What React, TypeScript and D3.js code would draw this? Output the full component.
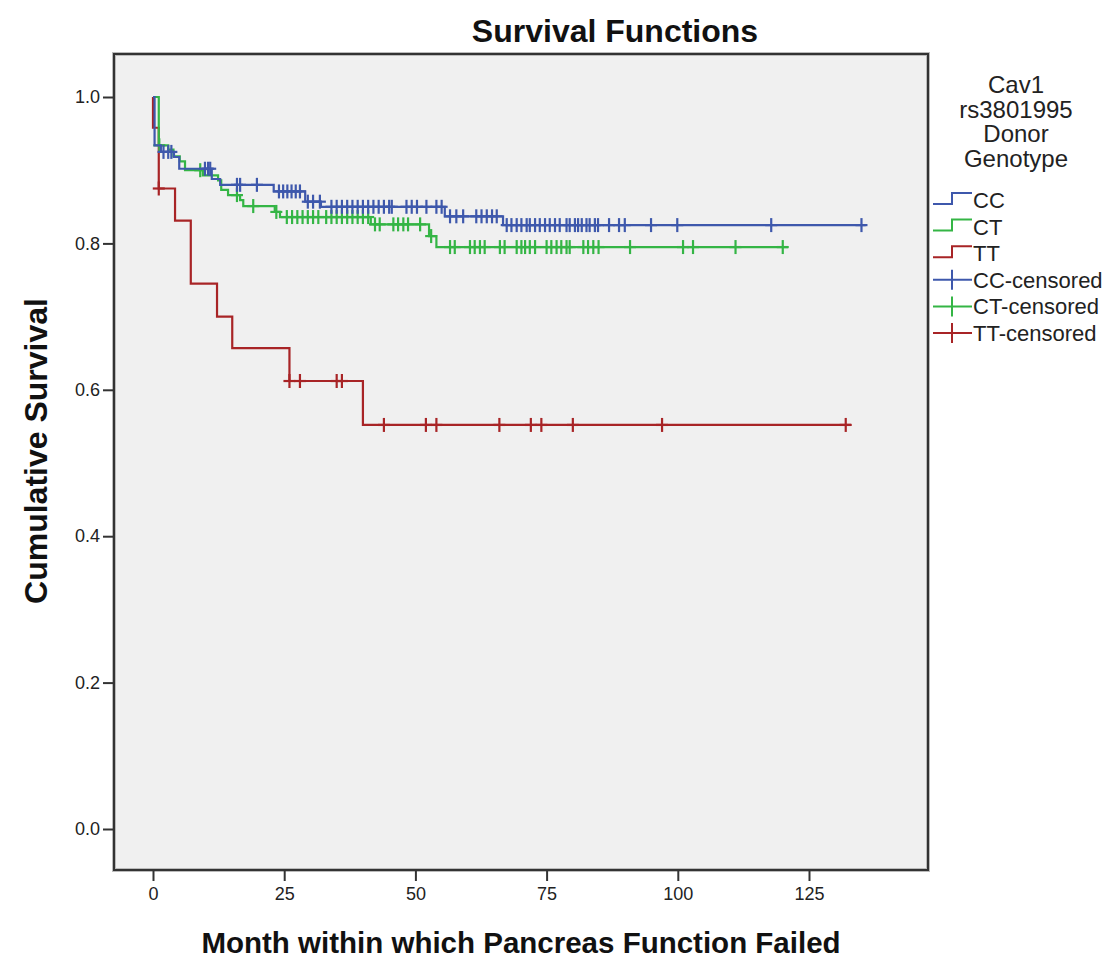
import React, { useEffect, useRef } from 'react';
import * as d3 from 'd3';

// step events: [month, survival after the drop]
const ccEvents: [number, number][] = [
  [0.3, 0.934], [1.5, 0.925], [4, 0.918], [5, 0.902], [11.2, 0.888], [12.8, 0.880],
  [23, 0.871], [29, 0.857], [32, 0.850], [55.6, 0.837], [66.7, 0.825],
];
const ccCensored = [
  2, 2.9, 3.5, 9.9, 10.5, 10.9, 16, 16.6, 19.8, 24, 24.8, 25.6, 26.4, 27.2, 28, 29.5, 30.5, 31.8,
  34, 35, 36, 37, 38, 39, 40, 41, 42, 43, 44, 45, 45.5, 48.3, 49.3, 50.3, 52.1, 54, 55,
  56.6, 57.8, 59.1, 61.6, 62.6, 63.6, 64.6, 65.5, 67.4, 68.3, 69.3, 70.2, 71.2, 71.8, 72.8,
  73.7, 74.7, 75.6, 76.6, 77.5, 78.8, 79.4, 80.4, 81, 81.7, 82.6, 83.2, 84.2, 84.8, 86.9,
  88.8, 89.9, 94.9, 99.9, 117.8, 135,
];
const ccEnd = 135.8;

const ctEvents: [number, number][] = [
  [1.1, 0.934], [2.9, 0.928], [3.9, 0.919], [5.1, 0.912], [6.1, 0.900], [9.5, 0.893],
  [12.4, 0.886], [13, 0.873], [14.3, 0.866], [16.6, 0.859], [17.2, 0.851], [23.2, 0.843],
  [24.2, 0.836], [41.5, 0.826], [52.6, 0.810], [54, 0.795],
];
const ctCensored = [
  1.2, 9, 16, 19.1, 23.5, 25.5, 26.5, 27.5, 28.5, 29.5, 30.5, 31.5, 33, 34, 35, 36, 37, 38, 39,
  40, 41, 42.3, 43.2, 45.8, 46.7, 47.7, 48.6, 50.9, 53, 56.6, 57.5, 60.4, 61.3, 62.3, 63.2,
  66.1, 67, 69.3, 70.2, 70.9, 71.8, 72.8, 75, 75.9, 76.9, 77.8, 78.8, 79.4, 82, 82.9, 83.9,
  84.9, 90.9, 101, 102.9, 111, 120,
];
const ctEnd = 121;

const ttEvents: [number, number][] = [
  [0, 0.958], [1.1, 0.875], [4.2, 0.831], [7.2, 0.745], [12.2, 0.700], [15.1, 0.657],
  [26, 0.612], [40, 0.552],
];
const ttCensored = [1.1, 26, 28, 35, 36, 44, 52, 54, 66, 72, 74, 80, 97, 132];
const ttEnd = 133;

const xTicks = [0, 25, 50, 75, 100, 125];
const yTicks = [0, 0.2, 0.4, 0.6, 0.8, 1.0];
const legendTitle = ['Cav1', 'rs3801995', 'Donor', 'Genotype'];

const series = [
  { key: 'CC', events: ccEvents, censored: ccCensored, end: ccEnd, color: '#3e58ac' },
  { key: 'CT', events: ctEvents, censored: ctCensored, end: ctEnd, color: '#34b545' },
  { key: 'TT', events: ttEvents, censored: ttCensored, end: ttEnd, color: '#a82426' },
];

const FONT = 'Arial, "Liberation Sans", sans-serif';

export default function App() {
  const svgRef = useRef<SVGSVGElement>(null);

  useEffect(() => {
    if (!svgRef.current) return;
    const svg = d3.select(svgRef.current);
    svg.selectAll('*').remove();

    const box = { left: 114, right: 928, top: 54, bottom: 870 };
    const x = d3.scaleLinear().domain([0, 125]).range([153, 809]);
    const y = d3.scaleLinear().domain([0, 1]).range([829, 97]);

    svg.append('rect').attr('width', 1106).attr('height', 968).attr('fill', '#fff');

    // title
    svg.append('text')
      .attr('x', 615).attr('y', 42)
      .attr('text-anchor', 'middle')
      .attr('font-family', FONT).attr('font-weight', 'bold').attr('font-size', 32)
      .attr('fill', '#111')
      .text('Survival Functions');

    // plot background + frame
    svg.append('rect')
      .attr('x', box.left).attr('y', box.top)
      .attr('width', box.right - box.left).attr('height', box.bottom - box.top)
      .attr('fill', '#f0f0f0')
      .attr('stroke', '#bbb').attr('stroke-width', 4);
    svg.append('rect')
      .attr('x', box.left).attr('y', box.top)
      .attr('width', box.right - box.left).attr('height', box.bottom - box.top)
      .attr('fill', 'none')
      .attr('stroke', '#333').attr('stroke-width', 2);

    // y axis
    const yAxis = svg.append('g')
      .attr('transform', `translate(${box.left},0)`)
      .call(d3.axisLeft(y).tickValues(yTicks).tickFormat(d3.format('.1f')).tickSize(11).tickPadding(3));
    yAxis.select('.domain').remove();
    yAxis.selectAll('line').attr('stroke', '#333').attr('stroke-width', 2);
    yAxis.selectAll('text')
      .attr('font-family', FONT).attr('font-size', 18).attr('fill', '#222');

    // x axis
    const xAxis = svg.append('g')
      .attr('transform', `translate(0,${box.bottom})`)
      .call(d3.axisBottom(x).tickValues(xTicks).tickFormat(d3.format('d')).tickSize(11).tickPadding(6));
    xAxis.select('.domain').remove();
    xAxis.selectAll('line').attr('stroke', '#333').attr('stroke-width', 2);
    xAxis.selectAll('text')
      .attr('font-family', FONT).attr('font-size', 18).attr('fill', '#222');

    // axis labels
    svg.append('text')
      .attr('x', 521).attr('y', 953)
      .attr('text-anchor', 'middle')
      .attr('font-family', FONT).attr('font-weight', 'bold').attr('font-size', 29.5)
      .attr('fill', '#111')
      .text('Month within which Pancreas Function Failed');
    svg.append('text')
      .attr('transform', 'translate(47,451) rotate(-90)')
      .attr('text-anchor', 'middle')
      .attr('font-family', FONT).attr('font-weight', 'bold').attr('font-size', 32)
      .attr('fill', '#111')
      .text('Cumulative Survival');

    const line = d3.line<[number, number]>()
      .x(d => x(d[0]))
      .y(d => y(d[1]))
      .curve(d3.curveStepAfter);

    const survAt = (events: [number, number][], t: number) => {
      let s = 1;
      for (const [et, ev] of events) if (et <= t) s = ev;
      return s;
    };

    const plot = svg.append('g');
    // draw order: TT, CT, CC on top
    [series[2], series[1], series[0]].forEach(s => {
      const pts: [number, number][] = [[0, 1], ...s.events, [s.end, s.events[s.events.length - 1][1]]];
      plot.append('path')
        .datum(pts)
        .attr('d', line)
        .attr('fill', 'none')
        .attr('stroke', s.color)
        .attr('stroke-width', 2.2);

      const marks = plot.append('g');
      s.censored.forEach(t => {
        const cx = x(t);
        const cy = y(survAt(s.events, t));
        marks.append('line')
          .attr('x1', cx).attr('x2', cx).attr('y1', cy - 7).attr('y2', cy + 7)
          .attr('stroke', s.color).attr('stroke-width', 2.2);
        marks.append('line')
          .attr('x1', cx - 6).attr('x2', cx + 6).attr('y1', cy).attr('y2', cy)
          .attr('stroke', s.color).attr('stroke-width', 2.2);
      });
    });

    // legend
    const lg = svg.append('g');
    legendTitle.forEach((t, i) => {
      lg.append('text')
        .attr('x', 1016).attr('y', 93 + i * 24.6)
        .attr('text-anchor', 'middle')
        .attr('font-family', FONT).attr('font-size', 24).attr('fill', '#222')
        .text(t);
    });

    const rowY = (i: number) => 208 + i * 26.6;
    series.forEach((s, i) => {
      const base = rowY(i);
      const lo = base - 4, hi = base - 15;
      lg.append('path')
        .attr('d', `M933,${lo}H952V${hi}H972`)
        .attr('fill', 'none').attr('stroke', s.color).attr('stroke-width', 2);
      lg.append('text')
        .attr('x', 973).attr('y', base)
        .attr('font-family', FONT).attr('font-size', 22).attr('fill', '#222')
        .text(s.key);
    });
    series.forEach((s, i) => {
      const base = rowY(i + 3);
      const cy = base - 8;
      lg.append('line')
        .attr('x1', 933).attr('x2', 972).attr('y1', cy).attr('y2', cy)
        .attr('stroke', s.color).attr('stroke-width', 2);
      lg.append('line')
        .attr('x1', 952).attr('x2', 952).attr('y1', cy - 10).attr('y2', cy + 10)
        .attr('stroke', s.color).attr('stroke-width', 2);
      lg.append('text')
        .attr('x', 973).attr('y', base)
        .attr('font-family', FONT).attr('font-size', 22).attr('fill', '#222')
        .text(`${s.key}-censored`);
    });
  }, []);

  return (
    <svg
      ref={svgRef}
      width={1106}
      height={968}
      style={{ position: 'absolute', left: 0, top: 0, display: 'block' }}
    />
  );
}
